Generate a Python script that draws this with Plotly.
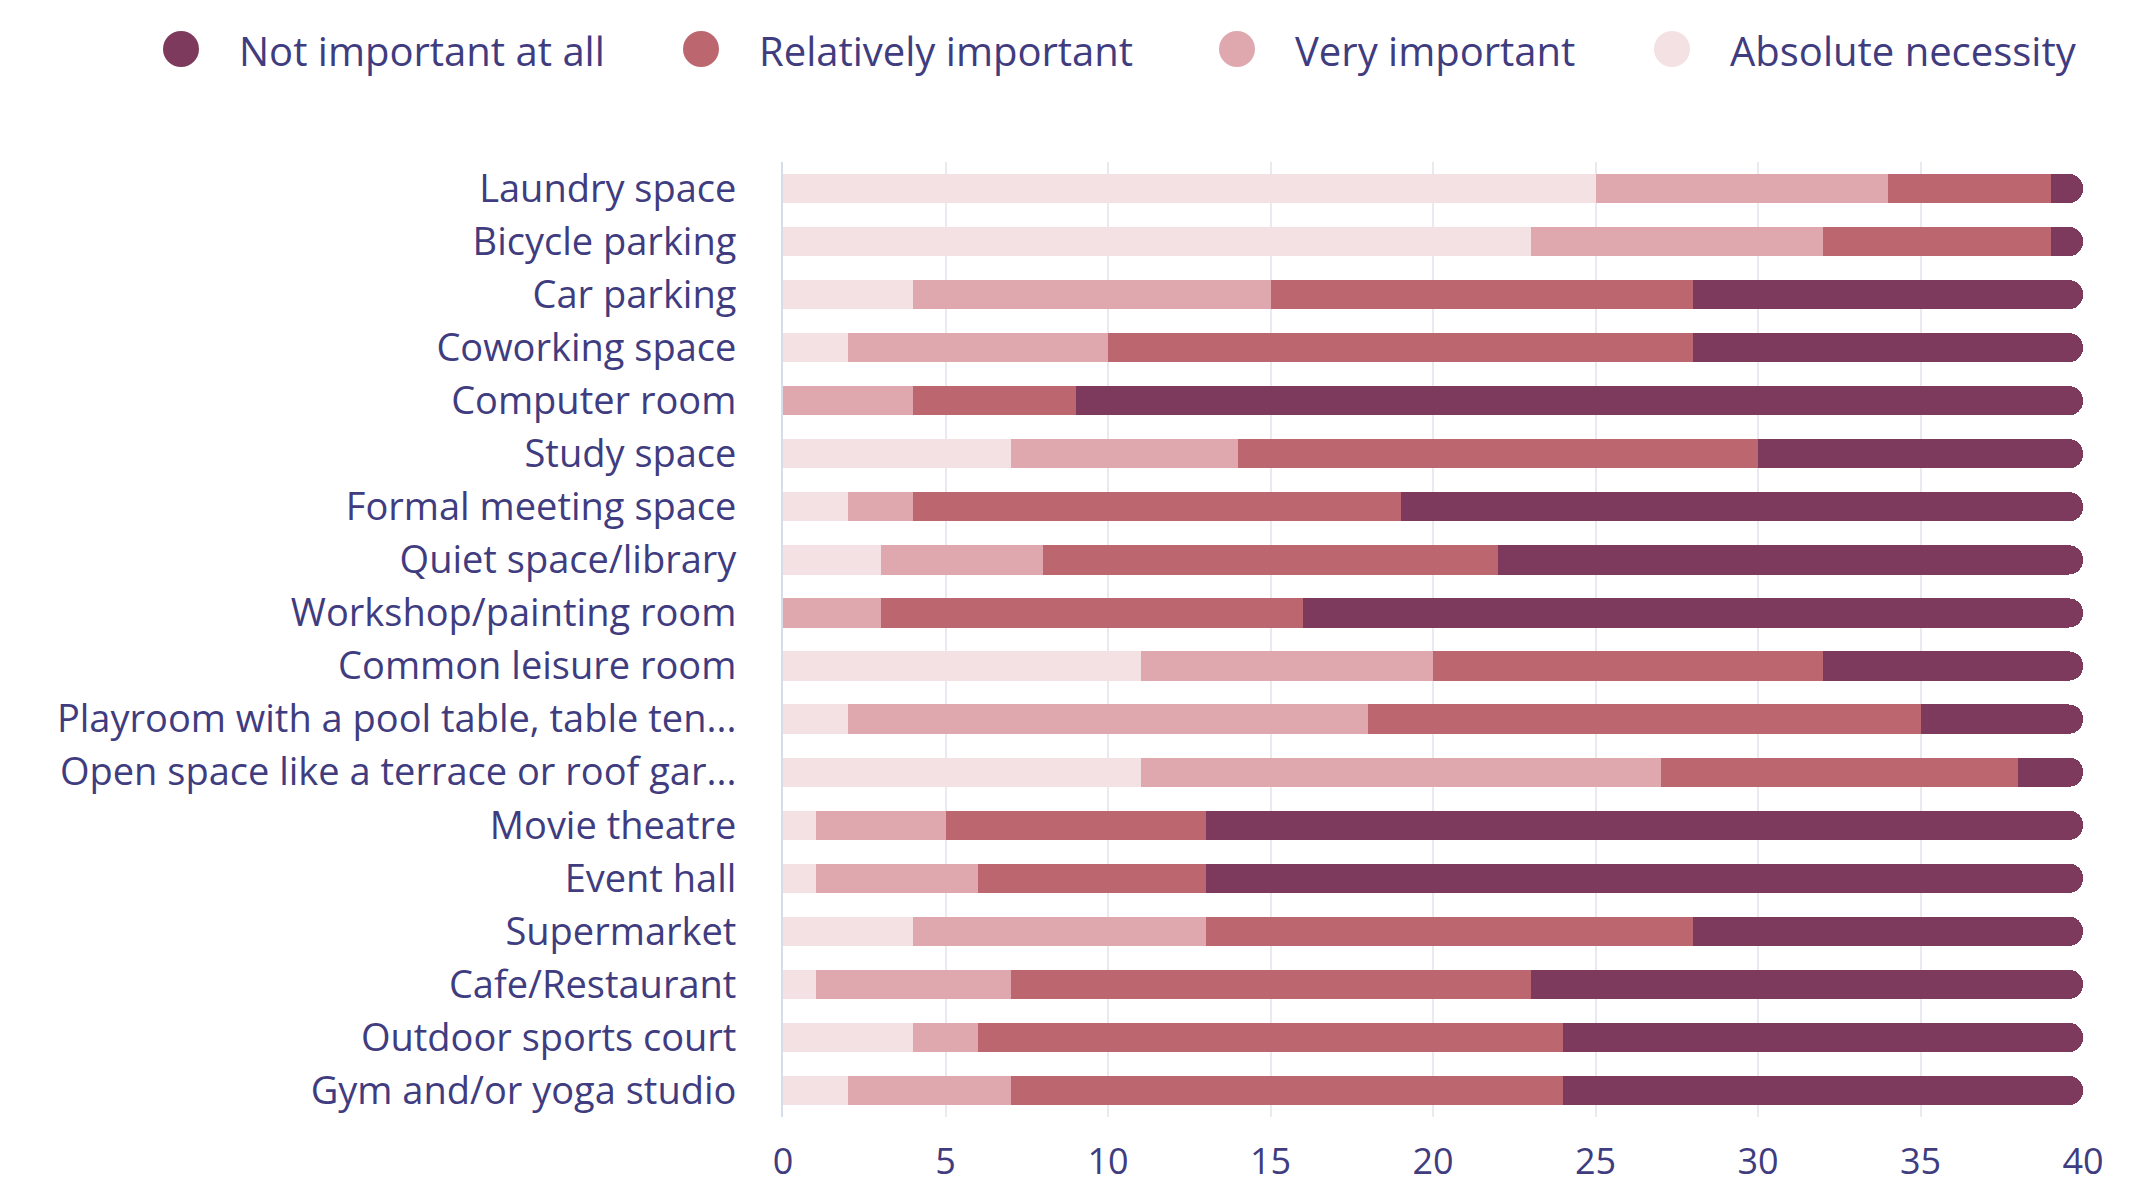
import plotly.graph_objects as go

# amenities, top to bottom as listed in the chart
amenities = [
    "Laundry space", "Bicycle parking", "Car parking", "Coworking space",
    "Computer room", "Study space", "Formal meeting space",
    "Quiet space/library", "Workshop/painting room", "Common leisure room",
    "Playroom with a pool table, table ten...",
    "Open space like a terrace or roof gar...",
    "Movie theatre", "Event hall", "Supermarket", "Cafe/Restaurant",
    "Outdoor sports court", "Gym and/or yoga studio",
]

# number of respondents per answer
absolute_necessity = [25, 23, 4, 2, 0, 7, 2, 3, 0, 11, 2, 11, 1, 1, 4, 1, 4, 2]
very_important = [9, 9, 11, 8, 4, 7, 2, 5, 3, 9, 16, 16, 4, 5, 9, 6, 2, 5]
relatively_important = [5, 7, 13, 18, 5, 16, 15, 14, 13, 12, 17, 11, 8, 7, 15, 16, 18, 17]
not_important = [1, 1, 12, 12, 31, 10, 21, 18, 24, 8, 5, 2, 27, 27, 12, 17, 16, 16]

x_ticks = [0, 5, 10, 15, 20, 25, 30, 35, 40]

# stacking order (left to right)
series = [
    ("Absolute necessity", absolute_necessity, "#f3e1e3"),
    ("Very important", very_important, "#dfa7ae"),
    ("Relatively important", relatively_important, "#bc6670"),
    ("Not important at all", not_important, "#7e3a5c"),
]

TEXT = "#3f3c80"
FONT = "Open Sans"
W, H = 2132, 1188
L, R, T, B = 783, 49, 162, 71
PW, PH = W - L - R, H - T - B

fig = go.Figure()
for name, vals, color in series:
    fig.add_trace(go.Bar(
        y=amenities, x=vals, name=name, orientation="h",
        marker=dict(color=color, line=dict(width=0)),
        showlegend=False, hoverinfo="x+name",
    ))


def px_x(px):
    return (px - L) / PW


def px_y(py):
    return (H - B - py) / PH


# legend drawn by hand so the dots can be as large as in the original
legend_dot_x = [181, 701, 1237, 1672]
legend_y = 49
rad = 18
shapes = []
annotations = []
for (name, _, color), cx in zip(series[::-1], legend_dot_x):
    shapes.append(dict(
        type="circle", xref="paper", yref="paper",
        x0=px_x(cx - rad), x1=px_x(cx + rad),
        y0=px_y(legend_y + rad), y1=px_y(legend_y - rad),
        fillcolor=color, line=dict(width=0),
    ))
    annotations.append(dict(
        text=name, xref="paper", yref="paper",
        x=px_x(cx + 56), y=px_y(legend_y + 1),
        xanchor="left", yanchor="middle", showarrow=False,
        font=dict(family=FONT, size=40, color=TEXT),
    ))

fig.update_layout(
    width=W, height=H,
    margin=dict(l=L, r=R, t=T, b=B),
    barmode="stack", bargap=0.45, barcornerradius=15,
    plot_bgcolor="white", paper_bgcolor="white",
    font=dict(family=FONT, color=TEXT),
    showlegend=False,
    shapes=shapes, annotations=annotations,
    xaxis=dict(
        range=[0, 40], tickvals=x_ticks, showgrid=True, automargin=False,
        gridcolor="#e9e9ef", gridwidth=2, zeroline=False,
        tickfont=dict(size=36, color=TEXT), ticklabelstandoff=20,
    ),
    yaxis=dict(
        autorange="reversed", showgrid=False, showline=True, automargin=False,
        linecolor="#d5dcea", linewidth=2,
        tickfont=dict(size=38, color=TEXT), ticklabelstandoff=37,
    ),
)

# drop the browser's default 8px body margin so the chart sits at the corner
fig.write_html("out.html", config={"displayModeBar": False},
               post_script="document.body.style.margin='0';")
